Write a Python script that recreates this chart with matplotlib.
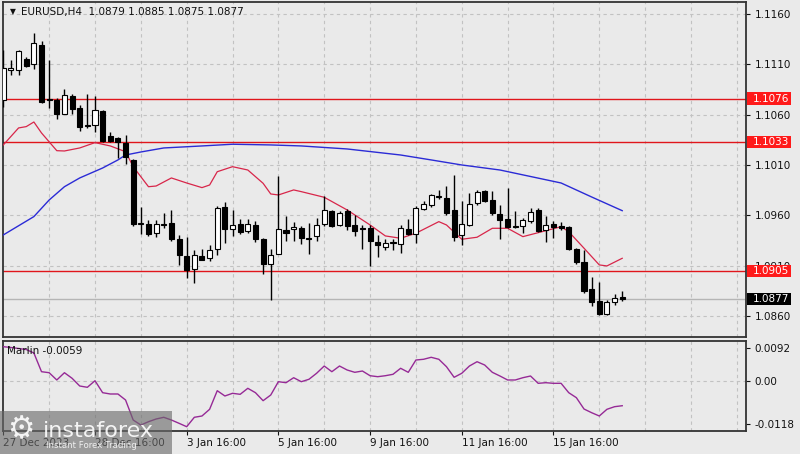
import matplotlib
matplotlib.use('Agg')
import matplotlib.pyplot as plt
from matplotlib.patches import Rectangle
import numpy as np

# ---------------- data ----------------
opens = [1.1075, 1.1104, 1.1104, 1.1115, 1.1110, 1.1129, 1.1076, 1.1075, 1.1061, 1.1079,
         1.1067, 1.1050, 1.1050, 1.1064, 1.1039, 1.1037, 1.1032, 1.1015, 1.0951, 1.0951,
         1.0942, 1.0951, 1.0952, 1.0936, 1.0920, 1.0907, 1.0920, 1.0918, 1.0927, 1.0968,
         1.0946, 1.0951, 1.0944, 1.0950, 1.0936, 1.0912, 1.0922, 1.0945, 1.0946, 1.0947,
         1.0937, 1.0939, 1.0951, 1.0964, 1.0950, 1.0964, 1.0950, 1.0947, 1.0947, 1.0933,
         1.0929, 1.0933, 1.0931, 1.0946, 1.0941, 1.0966, 1.0970, 1.0978, 1.0977, 1.0965,
         1.0940, 1.0950, 1.0972, 1.0984, 1.0975, 1.0961, 1.0956, 1.0949, 1.0949, 1.0954,
         1.0965, 1.0945, 1.0951, 1.0949, 1.0948, 1.0927, 1.0914, 1.0887, 1.0875, 1.0862,
         1.0874, 1.0879]
highs = [1.1124, 1.1114, 1.1124, 1.1117, 1.1141, 1.1133, 1.1114, 1.1077, 1.1085, 1.1081,
         1.1070, 1.1081, 1.1079, 1.1065, 1.1043, 1.1038, 1.1040, 1.1016, 1.0968, 1.0955,
         1.0955, 1.0962, 1.0965, 1.0940, 1.0938, 1.0926, 1.0927, 1.0930, 1.0969, 1.0973,
         1.0965, 1.0956, 1.0956, 1.0954, 1.0937, 1.0927, 1.0999, 1.0959, 1.0953, 1.0949,
         1.0952, 1.0957, 1.0979, 1.0965, 1.0964, 1.0966, 1.0960, 1.0950, 1.0950, 1.0940,
         1.0936, 1.0936, 1.0950, 1.0956, 1.0969, 1.0974, 1.0981, 1.0985, 1.0989, 1.1000,
         1.0974, 1.0982, 1.0985, 1.0985, 1.0984, 1.0970, 1.0987, 1.0964, 1.0957, 1.0967,
         1.0967, 1.0959, 1.0954, 1.0953, 1.0949, 1.0928, 1.0926, 1.0899, 1.0894, 1.0876,
         1.0882, 1.0885]
lows = [1.1068, 1.1099, 1.1099, 1.1107, 1.1105, 1.1072, 1.1067, 1.1056, 1.1061, 1.1061,
        1.1044, 1.1047, 1.1043, 1.1033, 1.1033, 1.1017, 1.1011, 1.0949, 1.0941, 1.0939,
        1.0938, 1.0947, 1.0934, 1.0911, 1.0898, 1.0893, 1.0916, 1.0915, 1.0921, 1.0932,
        1.0939, 1.0941, 1.0942, 1.0933, 1.0902, 1.0876, 1.0922, 1.0934, 1.0934, 1.0931,
        1.0922, 1.0934, 1.0949, 1.0948, 1.0949, 1.0945, 1.0939, 1.0927, 1.0910, 1.0919,
        1.0926, 1.0926, 1.0923, 1.0940, 1.0932, 1.0965, 1.0968, 1.0976, 1.0960, 1.0934,
        1.0930, 1.0949, 1.0970, 1.0973, 1.0960, 1.0936, 1.0947, 1.0947, 1.0942, 1.0952,
        1.0943, 1.0933, 1.0937, 1.0945, 1.0926, 1.0912, 1.0883, 1.0870, 1.0861, 1.0861,
        1.0871, 1.0875]
closes = [1.1106, 1.1106, 1.1123, 1.1108, 1.1131, 1.1073, 1.1075, 1.1061, 1.1080, 1.1066,
          1.1048, 1.1049, 1.1065, 1.1034, 1.1034, 1.1033, 1.1018, 1.0951, 1.0952, 1.0941,
          1.0951, 1.0950, 1.0936, 1.0921, 1.0906, 1.0921, 1.0916, 1.0926, 1.0967, 1.0946,
          1.0950, 1.0943, 1.0951, 1.0936, 1.0912, 1.0921, 1.0946, 1.0942, 1.0948, 1.0937,
          1.0936, 1.0950, 1.0965, 1.0949, 1.0962, 1.0949, 1.0944, 1.0946, 1.0934, 1.0930,
          1.0932, 1.0932, 1.0947, 1.0941, 1.0967, 1.0971, 1.0980, 1.0979, 1.0962, 1.0938,
          1.0951, 1.0971, 1.0983, 1.0974, 1.0962, 1.0955, 1.0948, 1.0948, 1.0955, 1.0963,
          1.0944, 1.0950, 1.0948, 1.0947, 1.0927, 1.0914, 1.0885, 1.0874, 1.0862, 1.0874,
          1.0878, 1.0877]

red_ma_bars = [0, 2, 3, 4, 5, 7, 8, 10, 12, 14, 16, 17, 19, 20, 22, 24, 26, 27, 28, 30,
               32, 34, 35, 36, 38, 39, 42, 45, 48, 50, 52, 54, 57, 58, 60, 62, 64, 66, 68,
               71, 73, 74, 76, 78, 79, 81]
red_ma_vals = [1.10299, 1.10468, 1.10481, 1.10527, 1.10418, 1.10242, 1.10239, 1.10269,
               1.10322, 1.10289, 1.10232, 1.10083, 1.09884, 1.09891, 1.09971, 1.09921,
               1.09875, 1.09901, 1.10033, 1.10083, 1.10050, 1.09918, 1.09812, 1.09802,
               1.09852, 1.09835, 1.09779, 1.09653, 1.09504, 1.09395, 1.09372, 1.09422,
               1.09537, 1.09504, 1.09362, 1.09382, 1.09471, 1.09471, 1.09388, 1.09447,
               1.09487, 1.09437, 1.09273, 1.09107, 1.09097, 1.09173]

blue_ma_bars = [0, 4, 6, 8, 10, 13, 15, 16, 18, 21, 26, 30, 35, 39, 45, 52, 56, 60, 65,
                73, 77, 81]
blue_ma_vals = [1.09405, 1.09587, 1.09752, 1.09884, 1.09971, 1.10070, 1.10150, 1.10199,
                1.10229, 1.10269, 1.10289, 1.10306, 1.10299, 1.10289, 1.10259, 1.10199,
                1.10150, 1.10100, 1.10050, 1.09921, 1.09782, 1.09646]

marlin_vals = [0.00948, 0.00926, 0.00898, 0.00870, 0.00774, 0.00257, 0.00229, 0.00028,
               0.00229, 0.00075, -0.00138, -0.00174, 0.00008, -0.00323, -0.00359, -0.00359,
               -0.00525, -0.01078, -0.01216, -0.01125, -0.01050, -0.01003, -0.01078, -0.01169,
               -0.01263, -0.01003, -0.00967, -0.00782, -0.00268, -0.00414, -0.00340, -0.00368,
               -0.00202, -0.00323, -0.00544, -0.00387, -0.00019, -0.00047, 0.00091, -0.00019,
               0.00047, 0.00213, 0.00414, 0.00257, 0.00414, 0.00304, 0.00240, 0.00276,
               0.00146, 0.00119, 0.00146, 0.00185, 0.00351, 0.00240, 0.00580, 0.00600,
               0.00655, 0.00600, 0.00395, 0.00102, 0.00213, 0.00414, 0.00533, 0.00442,
               0.00240, 0.00138, 0.00028, 0.00028, 0.00091, 0.00138, -0.00064, -0.00047,
               -0.00064, -0.00064, -0.00323, -0.00461, -0.00774, -0.00876, -0.00967, -0.00782,
               -0.00710, -0.00683]

level_prices = [1.1076, 1.1033, 1.0905]
last_price = 1.0877
price_ticks = [1.1160, 1.1110, 1.1060, 1.1010, 1.0960, 1.0910, 1.0860]
osc_ticks = [0.0092, 0.0, -0.0118]
osc_tick_labels = ['0.0092', '0.00', '-0.0118']
date_tick_bars = [0, 12, 24, 36, 48, 60, 72]
date_tick_labels = ['27 Dec 2023', '28 Dec 16:00', '3 Jan 16:00', '5 Jan 16:00',
                    '9 Jan 16:00', '11 Jan 16:00', '15 Jan 16:00']
header_text = 'EURUSD,H4  1.0879 1.0885 1.0875 1.0877'
osc_title = 'Marlin -0.0059'

# ---------------- style ----------------
BG = '#eaeaea'
GRID = '#c2c2c2'
TXT = '#111111'
FS = 7.5
plt.rcParams['font.family'] = ['DejaVu Sans']

W, H = 800, 454
fig = plt.figure(figsize=(W / 100, H / 100), dpi=100, facecolor=BG)

def fbox(x0, y0, x1, y1):
    return [x0 / W, 1 - y1 / H, (x1 - x0) / W, (y1 - y0) / H]

ax = fig.add_axes(fbox(3, 2, 746, 337), facecolor=BG)
axs = fig.add_axes(fbox(3, 341, 746, 431), facecolor=BG, sharex=ax)

x = np.arange(len(opens))
xlim = (-0.04, 97.2)

for a in (ax, axs):
    for s in a.spines.values():
        s.set_color('#333333')
        s.set_linewidth(1.3)
    for g in range(6, 97, 6):
        a.axvline(g, color=GRID, lw=0.8, ls=(0, (3, 3)), zorder=0)
    a.yaxis.tick_right()
    a.tick_params(axis='y', length=3, width=0.8, pad=3, labelsize=FS, colors=TXT)

# main panel
ax.set_xlim(*xlim)
ax.set_ylim(1.08391, 1.11719)
ax.set_yticks(price_ticks)
ax.set_yticklabels([f'{p:.4f}' for p in price_ticks])
for p in price_ticks:
    ax.axhline(p, color=GRID, lw=0.8, ls=(0, (3, 3)), zorder=0)
ax.tick_params(axis='x', bottom=False, labelbottom=False)

ax.axhline(last_price, color='#b5b5b5', lw=1.0, zorder=1)
for p in level_prices:
    ax.axhline(p, color='#e0161b', lw=1.0, zorder=2)

ax.plot(blue_ma_bars, blue_ma_vals, color='#2b2bd6', lw=1.0, zorder=3)
ax.plot(red_ma_bars, red_ma_vals, color='#d8264a', lw=0.9, zorder=3)

o = np.array(opens); c = np.array(closes)
hi = np.array(highs); lo = np.array(lows)
ax.vlines(x, lo, hi, color='black', lw=1.0, zorder=4)
bot = np.minimum(o, c)
ht = np.maximum(np.abs(c - o), 0.00008)
cols = np.where(c >= o, 'white', 'black')
ax.bar(x, ht, bottom=bot, width=0.66, color=cols, edgecolor='black', lw=0.8, zorder=5)

# price tags
ytr = ax.get_yaxis_transform()
box_h = 0.00122
for p, fc in [(1.1076, '#ff1a1a'), (1.1033, '#ff1a1a'), (1.0905, '#ff1a1a'), (last_price, '#000000')]:
    ax.add_patch(Rectangle((1.0013, p - box_h / 2), 0.059, box_h, transform=ytr,
                           facecolor=fc, edgecolor='none', clip_on=False, zorder=6))
    ax.text(1.0085, p, f'{p:.4f}', transform=ytr, color='white', fontsize=FS,
            va='center', ha='left', zorder=7, clip_on=False)

ax.text(10 / 743, 1 - 10 / 335, '\u25bc', transform=ax.transAxes, fontsize=5.5,
        color=TXT, va='center', ha='center')
ax.text(18 / 743, 1 - 10 / 335, header_text, transform=ax.transAxes, fontsize=FS,
        color=TXT, va='center', ha='left')

# oscillator panel
axs.set_ylim(-0.013816, 0.011053)
axs.set_yticks(osc_ticks)
axs.set_yticklabels(osc_tick_labels)
axs.axhline(0.0, color=GRID, lw=0.8, ls=(0, (3, 3)), zorder=0)
axs.plot(x, marlin_vals, color='#962a96', lw=1.0, zorder=3)
axs.text(4 / 743, 1 - 10 / 90, osc_title, transform=axs.transAxes, fontsize=FS,
         color=TXT, va='center', ha='left')
axs.set_xticks(date_tick_bars)
axs.set_xticklabels(date_tick_labels)
axs.tick_params(axis='x', length=3, width=0.8, pad=2, labelsize=FS, colors=TXT)
for lbl in axs.get_xticklabels():
    lbl.set_ha('left')
axs.set_xlim(*xlim)

# watermark logo
fig.patches.append(Rectangle((0, 0), 172 / W, 43 / H, transform=fig.transFigure,
                             facecolor='#6a6a6a', alpha=0.62, edgecolor='none', zorder=10))
fig.text(21 / W, 1 - 430 / H, '\u2699', fontsize=22, color='white', alpha=0.9,
         ha='center', va='center', zorder=11)
fig.text(43 / W, 1 - 437 / H, 'instaforex', fontsize=16, color='white', alpha=0.9,
         ha='left', va='baseline', zorder=11)
fig.text(46 / W, 1 - 448 / H, 'Instant Forex Trading', fontsize=6.2, color='white',
         alpha=0.85, ha='left', va='baseline', zorder=11)

fig.savefig('out.png', dpi=100, facecolor=BG)
